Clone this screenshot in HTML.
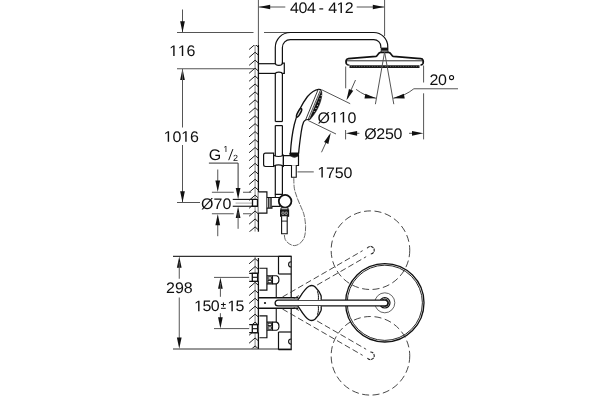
<!DOCTYPE html>
<html><head><meta charset="utf-8"><style>
html,body{margin:0;padding:0;background:#fff;width:600px;height:400px;overflow:hidden;}
svg{display:block;will-change:transform;}
text{font-family:"Liberation Sans",sans-serif;fill:#111;text-rendering:geometricPrecision;}
</style></head><body>
<svg width="600" height="400" viewBox="0 0 600 400">
<rect width="600" height="400" fill="#fff"/>
<clipPath id="hc1"><rect x="240" y="45" width="30" height="186.7"/></clipPath>
<g clip-path="url(#hc1)">
<line x1="255.10" y1="45.00" x2="255.10" y2="231.70" stroke="#aaa" stroke-width="1.4" />
<path d="M249.1,49.50 L255.1,44.30 L258.4,47.20" stroke="#111" stroke-width="0.95" fill="none" />
<path d="M249.1,57.44 L255.1,52.24 L258.4,55.14" stroke="#111" stroke-width="0.95" fill="none" />
<path d="M249.1,65.38 L255.1,60.18 L258.4,63.08" stroke="#111" stroke-width="0.95" fill="none" />
<path d="M249.1,73.32 L255.1,68.12 L258.4,71.02" stroke="#111" stroke-width="0.95" fill="none" />
<path d="M249.1,81.26 L255.1,76.06 L258.4,78.96" stroke="#111" stroke-width="0.95" fill="none" />
<path d="M249.1,89.20 L255.1,84.00 L258.4,86.90" stroke="#111" stroke-width="0.95" fill="none" />
<path d="M249.1,97.14 L255.1,91.94 L258.4,94.84" stroke="#111" stroke-width="0.95" fill="none" />
<path d="M249.1,105.08 L255.1,99.88 L258.4,102.78" stroke="#111" stroke-width="0.95" fill="none" />
<path d="M249.1,113.02 L255.1,107.82 L258.4,110.72" stroke="#111" stroke-width="0.95" fill="none" />
<path d="M249.1,120.96 L255.1,115.76 L258.4,118.66" stroke="#111" stroke-width="0.95" fill="none" />
<path d="M249.1,128.90 L255.1,123.70 L258.4,126.60" stroke="#111" stroke-width="0.95" fill="none" />
<path d="M249.1,136.84 L255.1,131.64 L258.4,134.54" stroke="#111" stroke-width="0.95" fill="none" />
<path d="M249.1,144.78 L255.1,139.58 L258.4,142.48" stroke="#111" stroke-width="0.95" fill="none" />
<path d="M249.1,152.72 L255.1,147.52 L258.4,150.42" stroke="#111" stroke-width="0.95" fill="none" />
<path d="M249.1,160.66 L255.1,155.46 L258.4,158.36" stroke="#111" stroke-width="0.95" fill="none" />
<path d="M249.1,168.60 L255.1,163.40 L258.4,166.30" stroke="#111" stroke-width="0.95" fill="none" />
<path d="M249.1,176.54 L255.1,171.34 L258.4,174.24" stroke="#111" stroke-width="0.95" fill="none" />
<path d="M249.1,184.48 L255.1,179.28 L258.4,182.18" stroke="#111" stroke-width="0.95" fill="none" />
<path d="M249.1,192.42 L255.1,187.22 L258.4,190.12" stroke="#111" stroke-width="0.95" fill="none" />
<path d="M249.1,200.36 L255.1,195.16 L258.4,198.06" stroke="#111" stroke-width="0.95" fill="none" />
<path d="M249.1,208.30 L255.1,203.10 L258.4,206.00" stroke="#111" stroke-width="0.95" fill="none" />
<path d="M249.1,216.24 L255.1,211.04 L258.4,213.94" stroke="#111" stroke-width="0.95" fill="none" />
<path d="M249.1,224.18 L255.1,218.98 L258.4,221.88" stroke="#111" stroke-width="0.95" fill="none" />
<path d="M249.1,232.12 L255.1,226.92 L258.4,229.82" stroke="#111" stroke-width="0.95" fill="none" />
</g>
<line x1="258.40" y1="0.00" x2="258.40" y2="45.00" stroke="#555" stroke-width="1" />
<line x1="258.40" y1="45.00" x2="258.40" y2="231.70" stroke="#111" stroke-width="1.3" />
<line x1="258.40" y1="7.00" x2="285.30" y2="7.00" stroke="#555" stroke-width="1" />
<path d="M258.90,7.00 L270.20,4.65 L270.20,9.35 Z" fill="#111" stroke="none"/>
<text x="289.90 298.49 307.07" y="0" font-size="16" transform="translate(0,12.72) scale(1,0.955)">404</text>
<text x="328.30 344.70" y="0" font-size="16" transform="translate(0,12.9) scale(1,0.955)">42</text>
<path d="M515,0 L515,1237 L197,1010 L197,1180 L530,1409 L696,1409 L696,0 Z" fill="#111" transform="translate(336.50,12.9) scale(0.007812,-0.007461)"/>
<line x1="319.30" y1="8.90" x2="323.20" y2="8.90" stroke="#111" stroke-width="1.2" />
<line x1="356.70" y1="7.00" x2="384.60" y2="7.00" stroke="#555" stroke-width="1" />
<path d="M384.10,7.00 L372.80,9.35 L372.80,4.65 Z" fill="#111" stroke="none"/>
<line x1="384.60" y1="0.00" x2="384.60" y2="36.00" stroke="#555" stroke-width="1" />
<line x1="177.00" y1="32.50" x2="253.50" y2="32.50" stroke="#555" stroke-width="1" />
<line x1="264.00" y1="32.50" x2="290.00" y2="32.50" stroke="#555" stroke-width="1" />
<line x1="177.00" y1="68.75" x2="254.40" y2="68.75" stroke="#555" stroke-width="1" />
<line x1="182.50" y1="9.50" x2="182.50" y2="32.00" stroke="#555" stroke-width="1" />
<path d="M182.50,32.50 L180.15,21.20 L184.85,21.20 Z" fill="#111" stroke="none"/>
<path d="M182.50,68.75 L184.85,80.05 L180.15,80.05 Z" fill="#111" stroke="none"/>
<line x1="182.50" y1="69.00" x2="182.50" y2="127.50" stroke="#555" stroke-width="1" />
<line x1="182.50" y1="145.00" x2="182.50" y2="202.00" stroke="#555" stroke-width="1" />
<path d="M182.50,202.50 L180.15,191.20 L184.85,191.20 Z" fill="#111" stroke="none"/>
<line x1="177.00" y1="202.50" x2="200.00" y2="202.50" stroke="#555" stroke-width="1" />
<text x="186.39" y="0" font-size="16" transform="translate(0,56.01) scale(1,0.955)">6</text>
<path d="M515,0 L515,1237 L197,1010 L197,1180 L530,1409 L696,1409 L696,0 Z" fill="#111" transform="translate(169.18,56.01) scale(0.007812,-0.007461)"/>
<path d="M515,0 L515,1237 L197,1010 L197,1180 L530,1409 L696,1409 L696,0 Z" fill="#111" transform="translate(177.79,56.01) scale(0.007812,-0.007461)"/>
<text x="172.45 189.99" y="0" font-size="16" transform="translate(0,141.71) scale(1,0.955)">06</text>
<path d="M515,0 L515,1237 L197,1010 L197,1180 L530,1409 L696,1409 L696,0 Z" fill="#111" transform="translate(163.68,141.71) scale(0.007812,-0.007461)"/>
<path d="M515,0 L515,1237 L197,1010 L197,1180 L530,1409 L696,1409 L696,0 Z" fill="#111" transform="translate(181.22,141.71) scale(0.007812,-0.007461)"/>
<path d="M275.3,64 L275.3,47.5 A15,15 0 0 1 290.3,32.5 L373.75,32.5 A14,14 0 0 1 387.75,46.5 L387.75,48" stroke="#111" stroke-width="1.2" fill="none" />
<path d="M282.4,64 L282.4,47.5 A7.9,7.9 0 0 1 290.3,39.6 L373.75,39.6 A7.1,7.1 0 0 1 380.85,46.7 L380.85,48" stroke="#111" stroke-width="1.2" fill="none" />
<line x1="258.40" y1="63.70" x2="275.30" y2="63.70" stroke="#111" stroke-width="1.2" />
<line x1="258.40" y1="73.40" x2="275.30" y2="73.40" stroke="#111" stroke-width="1.2" />
<path d="M275.3,63.2 C275.6,66 282.1,66 282.4,63.2 L284.3,63.2 L284.3,73.4 L282.4,73.4" stroke="#111" stroke-width="1.2" fill="none" />
<path d="M275.3,74 C275.6,71.4 282.1,71.4 282.4,74" stroke="#111" stroke-width="1.2" fill="none" />
<line x1="275.30" y1="73.40" x2="275.30" y2="121.50" stroke="#111" stroke-width="1.2" />
<line x1="282.40" y1="73.40" x2="282.40" y2="121.50" stroke="#111" stroke-width="1.2" />
<line x1="275.30" y1="121.50" x2="282.40" y2="121.50" stroke="#111" stroke-width="1.2" />
<line x1="275.30" y1="125.60" x2="282.40" y2="125.60" stroke="#111" stroke-width="1.2" />
<line x1="275.30" y1="125.60" x2="275.30" y2="194.40" stroke="#111" stroke-width="1.2" />
<line x1="282.40" y1="125.60" x2="282.40" y2="194.40" stroke="#111" stroke-width="1.2" />
<path d="M265.5,153.2 L273.6,153.2 L273.6,166.5 L265.5,166.5 Q263.6,166.5 263.6,164.6 L263.6,155.1 Q263.6,153.2 265.5,153.2 Z" stroke="#111" stroke-width="1.2" fill="#fff" />
<path d="M273.6,155.2 Q278.5,157.8 283.4,155.2 L283.4,166.2 Q278.5,163.4 273.6,166.2 Z" stroke="#111" stroke-width="1.2" fill="#fff" />
<path d="M283.4,155.7 L298.5,155.7 L298.5,165.5 L283.4,165.5 Z" stroke="#111" stroke-width="1.2" fill="#fff" />
<path d="M291.5,165.25 L291.5,177.25 L296.25,177.25 L296.25,165.25" stroke="#111" stroke-width="1.1" fill="#fff" />
<line x1="297.50" y1="171.90" x2="313.75" y2="171.90" stroke="#555" stroke-width="1" />
<text x="326.05 334.72 343.39" y="0" font-size="16" transform="translate(0,177.52) scale(1,0.955)">750</text>
<path d="M515,0 L515,1237 L197,1010 L197,1180 L530,1409 L696,1409 L696,0 Z" fill="#111" transform="translate(317.38,177.52) scale(0.007812,-0.007461)"/>
<path d="M318.4,89.3 C314,89.8 310.5,93 307.5,96.5 C304.5,100.5 301.5,105.5 299.3,110 C297.3,114.5 295.6,119 294.3,124.5 C292.3,133 291,143 290.4,153.5" stroke="#111" stroke-width="1.3" fill="none" />
<path d="M306,119.8 C304.8,120.5 304,121.2 303.6,122 C302.5,124.5 301.7,128 301.2,132 C300.2,139 299.2,146 298.6,153.5" stroke="#111" stroke-width="1.3" fill="none" />
<path d="M318.2,89.4 C319.6,89.2 320.8,89.5 321.4,90.4" stroke="#111" stroke-width="1.2" fill="none" />
<line x1="318.10" y1="89.60" x2="305.70" y2="119.70" stroke="#111" stroke-width="0.85" />
<line x1="320.30" y1="90.40" x2="308.10" y2="119.60" stroke="#111" stroke-width="0.75" />
<path d="M321.3,90.5 C323.3,94.5 320.5,108 310.2,119.4 L309.4,119.5 L320.9,91.9 Z" stroke="#111" stroke-width="0.5" fill="#111" />
<circle cx="321.20" cy="95.50" r="0.55" fill="#fff"/>
<circle cx="320.00" cy="98.80" r="0.55" fill="#fff"/>
<circle cx="318.80" cy="102.00" r="0.55" fill="#fff"/>
<circle cx="317.40" cy="105.20" r="0.55" fill="#fff"/>
<circle cx="315.90" cy="108.40" r="0.55" fill="#fff"/>
<circle cx="314.20" cy="111.50" r="0.55" fill="#fff"/>
<path d="M305.9,119.7 L309.8,119.4" stroke="#111" stroke-width="1.1" fill="none" />
<ellipse cx="299.1" cy="112.8" rx="1.3" ry="4.8" transform="rotate(28.6 299.1 112.8)" fill="#eee" stroke="#111" stroke-width="1.6"/>
<path d="M289.9,153.0 L298.6,153.0 L298.5,155.7 L290.0,155.7 Z" stroke="#111" stroke-width="1" fill="#111" />
<path d="M290.8,155.6 Q294.3,159 298,155.6 Z" stroke="#111" stroke-width="0.8" fill="#222" />
<line x1="321.70" y1="89.75" x2="350.20" y2="103.70" stroke="#555" stroke-width="1" />
<line x1="308.20" y1="120.50" x2="336.00" y2="134.00" stroke="#555" stroke-width="1" />
<line x1="355.50" y1="80.00" x2="347.30" y2="98.50" stroke="#555" stroke-width="1" />
<path d="M346.50,100.20 L348.96,88.92 L353.25,90.84 Z" fill="#111" stroke="none"/>
<line x1="321.50" y1="152.25" x2="329.50" y2="135.00" stroke="#555" stroke-width="1" />
<path d="M330.80,132.75 L328.34,144.03 L324.05,142.11 Z" fill="#111" stroke="none"/>
<text x="317.49 347.60" y="0" font-size="16" transform="translate(0,122.5) scale(1,0.955)">Ø0</text>
<path d="M515,0 L515,1237 L197,1010 L197,1180 L530,1409 L696,1409 L696,0 Z" fill="#111" transform="translate(329.89,122.5) scale(0.007812,-0.007461)"/>
<path d="M515,0 L515,1237 L197,1010 L197,1180 L530,1409 L696,1409 L696,0 Z" fill="#111" transform="translate(338.75,122.5) scale(0.007812,-0.007461)"/>
<line x1="232.75" y1="199.40" x2="252.50" y2="199.40" stroke="#111" stroke-width="1.1" />
<line x1="232.75" y1="206.25" x2="252.50" y2="206.25" stroke="#111" stroke-width="1.1" />
<line x1="235.60" y1="203.10" x2="252.50" y2="203.10" stroke="#aaa" stroke-width="1" />
<path d="M252.5,199.4 L257.5,199.4 L257.5,206.25 L252.5,206.25 Z" stroke="#111" stroke-width="1.3" fill="#fff" />
<path d="M258.4,191.9 L266.9,191.9 L266.9,213.1 L258.4,213.1" stroke="#111" stroke-width="1.2" fill="#fff" />
<path d="M266.9,197.5 L271.9,197.5 L271.9,208.1 L266.9,208.1" stroke="#111" stroke-width="1.2" fill="#ccc" />
<line x1="268.40" y1="197.80" x2="268.40" y2="207.80" stroke="#111" stroke-width="0.9" />
<line x1="270.20" y1="197.80" x2="270.20" y2="207.80" stroke="#111" stroke-width="0.9" />
<path d="M275.3,194.4 L282.3,194.4 L282.3,197.5 L275.3,197.5 Z" stroke="#111" stroke-width="1.1" fill="#fff" />
<path d="M271.9,197.5 L280,197.5 L280,206.3 L271.9,206.3" stroke="#111" stroke-width="1.2" fill="#fff" />
<circle cx="285.1" cy="201.25" r="6.3" fill="#fff" stroke="#111" stroke-width="1.8"/>
<path d="M281,207.8 L288,207.8 L288,210 L281,210 Z" stroke="#111" stroke-width="1" fill="#fff" />
<path d="M280.6,210 L288.6,210 L288.6,216.3 L280.6,216.3 Z" stroke="#111" stroke-width="1.1" fill="#222" />
<ellipse cx="283" cy="213.2" rx="1.2" ry="1.3" fill="none" stroke="#ccc" stroke-width="0.7"/>
<ellipse cx="286.2" cy="213.2" rx="1.2" ry="1.3" fill="none" stroke="#ccc" stroke-width="0.7"/>
<path d="M281.6,216.3 L281.6,233.7 L287.2,233.7 L287.2,216.3" stroke="#111" stroke-width="1.1" fill="#fff" />
<path d="M293.75,177.50 C293.86,179.38 293.77,185.21 294.40,188.75 C295.02,192.29 296.36,195.62 297.50,198.75 C298.64,201.88 300.21,205.00 301.25,207.50 C302.29,210.00 303.14,211.77 303.75,213.75 C304.36,215.73 304.59,217.29 304.90,219.40 C305.21,221.51 305.53,224.22 305.60,226.40 C305.67,228.58 305.60,230.47 305.30,232.50 C305.00,234.53 304.70,236.78 303.80,238.60 C302.90,240.42 301.43,242.23 299.90,243.40 C298.37,244.57 296.35,245.52 294.60,245.60 C292.85,245.68 290.97,244.92 289.40,243.90 C287.83,242.88 286.05,241.22 285.20,239.50 C284.35,237.78 284.45,234.58 284.30,233.60" stroke="#444" stroke-width="0.8" fill="none" stroke-dasharray="6,1.1"/>
<line x1="281.60" y1="221.10" x2="287.20" y2="221.10" stroke="#111" stroke-width="0.9" />
<line x1="211.90" y1="192.25" x2="233.75" y2="192.25" stroke="#555" stroke-width="1" />
<line x1="243.00" y1="192.25" x2="251.25" y2="192.25" stroke="#555" stroke-width="1" />
<line x1="211.90" y1="213.75" x2="233.75" y2="213.75" stroke="#555" stroke-width="1" />
<line x1="243.00" y1="213.75" x2="251.25" y2="213.75" stroke="#555" stroke-width="1" />
<line x1="217.75" y1="169.50" x2="217.75" y2="186.00" stroke="#555" stroke-width="1" />
<path d="M217.75,191.90 L215.40,180.60 L220.10,180.60 Z" fill="#111" stroke="none"/>
<line x1="217.75" y1="219.00" x2="217.75" y2="236.20" stroke="#555" stroke-width="1" />
<path d="M217.75,213.90 L220.10,225.20 L215.40,225.20 Z" fill="#111" stroke="none"/>
<text x="201.09 213.62 222.60" y="0" font-size="16" transform="translate(0,208.6) scale(1,0.955)">Ø70</text>
<line x1="208.90" y1="163.10" x2="238.10" y2="163.10" stroke="#333" stroke-width="1" />
<line x1="238.10" y1="163.10" x2="238.10" y2="193.00" stroke="#333" stroke-width="1" />
<path d="M238.10,199.20 L235.75,187.90 L240.45,187.90 Z" fill="#111" stroke="none"/>
<path d="M238.10,206.60 L240.45,217.90 L235.75,217.90 Z" fill="#111" stroke="none"/>
<line x1="238.10" y1="212.00" x2="238.10" y2="228.80" stroke="#555" stroke-width="1" />
<text x="208.84" y="0" font-size="16" transform="translate(0,160.3) scale(1,0.955)">G</text>
<path d="M515,0 L515,1237 L197,1010 L197,1180 L530,1409 L696,1409 L696,0 Z" fill="#111" transform="translate(223.3,152.1) scale(0.004395,-0.004395)"/>
<line x1="228.70" y1="160.20" x2="232.90" y2="149.10" stroke="#111" stroke-width="1" />
<text x="233.1" y="160.5" font-size="9" text-anchor="start" >2</text>
<path d="M381.2,48 L388,48 L388,50.3 L381.2,50.3 Z" stroke="#111" stroke-width="0.8" fill="#111" />
<path d="M381.2,50.3 L388,50.3 L388,52.4 L381.2,52.4 Z" stroke="#111" stroke-width="0.8" fill="#ddd" />
<path d="M346.4,64 C345.6,61 346,58.9 348.5,58.7 C358,57.9 368,57.1 376,56.4 C377.8,55.9 378,52.7 380.5,52.4 L388.7,52.4 C391.2,52.7 391.4,55.9 393.2,56.4 C401,57.1 411,57.9 420.7,58.7 C423.2,58.9 423.6,61 423,63.5 C422.5,64.6 421.6,65 420.5,65.1" stroke="#111" stroke-width="1.8" fill="#fff" />
<path d="M346.4,64 C347,64.8 348,65.1 349.5,65.1" stroke="#111" stroke-width="1.3" fill="none" />
<line x1="346.80" y1="60.80" x2="422.80" y2="60.80" stroke="#111" stroke-width="0.9" />
<line x1="349.50" y1="66.60" x2="419.50" y2="66.60" stroke="#1a1a1a" stroke-width="2.6" />
<circle cx="351.50" cy="66.3" r="0.45" fill="#999"/>
<circle cx="354.10" cy="66.3" r="0.45" fill="#999"/>
<circle cx="356.70" cy="66.3" r="0.45" fill="#999"/>
<circle cx="359.30" cy="66.3" r="0.45" fill="#999"/>
<circle cx="361.90" cy="66.3" r="0.45" fill="#999"/>
<circle cx="364.50" cy="66.3" r="0.45" fill="#999"/>
<circle cx="367.10" cy="66.3" r="0.45" fill="#999"/>
<circle cx="369.70" cy="66.3" r="0.45" fill="#999"/>
<circle cx="372.30" cy="66.3" r="0.45" fill="#999"/>
<circle cx="374.90" cy="66.3" r="0.45" fill="#999"/>
<circle cx="377.50" cy="66.3" r="0.45" fill="#999"/>
<circle cx="380.10" cy="66.3" r="0.45" fill="#999"/>
<circle cx="382.70" cy="66.3" r="0.45" fill="#999"/>
<circle cx="385.30" cy="66.3" r="0.45" fill="#999"/>
<circle cx="387.90" cy="66.3" r="0.45" fill="#999"/>
<circle cx="390.50" cy="66.3" r="0.45" fill="#999"/>
<circle cx="393.10" cy="66.3" r="0.45" fill="#999"/>
<circle cx="395.70" cy="66.3" r="0.45" fill="#999"/>
<circle cx="398.30" cy="66.3" r="0.45" fill="#999"/>
<circle cx="400.90" cy="66.3" r="0.45" fill="#999"/>
<circle cx="403.50" cy="66.3" r="0.45" fill="#999"/>
<circle cx="406.10" cy="66.3" r="0.45" fill="#999"/>
<circle cx="408.70" cy="66.3" r="0.45" fill="#999"/>
<circle cx="411.30" cy="66.3" r="0.45" fill="#999"/>
<circle cx="413.90" cy="66.3" r="0.45" fill="#999"/>
<circle cx="416.50" cy="66.3" r="0.45" fill="#999"/>
<circle cx="419.10" cy="66.3" r="0.45" fill="#999"/>
<line x1="384.51" y1="52.50" x2="375.40" y2="104.20" stroke="#555" stroke-width="1" />
<line x1="384.69" y1="52.50" x2="393.80" y2="104.20" stroke="#555" stroke-width="1" />
<path d="M356.05,89.34 A47,47 0 0 0 375.95,98.20" stroke="#555" stroke-width="1" fill="none" />
<path d="M376.03,98.21 L364.50,98.46 L365.35,93.84 Z" fill="#111" stroke="none"/>
<path d="M393.25,98.20 A47,47 0 0 0 413.86,88.78" stroke="#555" stroke-width="1" fill="none" />
<path d="M393.17,98.21 L403.85,93.84 L404.70,98.46 Z" fill="#111" stroke="none"/>
<line x1="413.86" y1="88.78" x2="458.00" y2="88.78" stroke="#555" stroke-width="1" />
<text x="429.49 437.88" y="0" font-size="16" transform="translate(0,85.42) scale(1,0.955)">20</text>
<circle cx="451.55" cy="77.55" r="2.05" fill="none" stroke="#111" stroke-width="1.1"/>
<line x1="345.70" y1="66.50" x2="345.70" y2="88.30" stroke="#555" stroke-width="1" />
<line x1="423.60" y1="65.50" x2="423.60" y2="82.50" stroke="#555" stroke-width="1" />
<line x1="423.60" y1="93.30" x2="423.60" y2="139.40" stroke="#555" stroke-width="1" />
<line x1="345.60" y1="130.00" x2="345.60" y2="139.40" stroke="#555" stroke-width="1" />
<line x1="350.00" y1="133.30" x2="359.40" y2="133.30" stroke="#555" stroke-width="1" />
<path d="M345.80,133.30 L357.10,130.95 L357.10,135.65 Z" fill="#111" stroke="none"/>
<line x1="409.00" y1="133.30" x2="418.00" y2="133.30" stroke="#555" stroke-width="1" />
<path d="M423.30,133.30 L412.00,135.65 L412.00,130.95 Z" fill="#111" stroke="none"/>
<text x="364.19 376.36 384.98 393.60" y="0" font-size="16" transform="translate(0,139.0) scale(1,0.955)">Ø250</text>
<clipPath id="hc2"><rect x="240" y="256.9" width="30" height="91.70000000000005"/></clipPath>
<g clip-path="url(#hc2)">
<line x1="255.10" y1="256.90" x2="255.10" y2="348.60" stroke="#aaa" stroke-width="1.4" />
<path d="M249.1,263.80 L255.1,258.60 L258.4,261.50" stroke="#111" stroke-width="0.95" fill="none" />
<path d="M249.1,271.74 L255.1,266.54 L258.4,269.44" stroke="#111" stroke-width="0.95" fill="none" />
<path d="M249.1,279.68 L255.1,274.48 L258.4,277.38" stroke="#111" stroke-width="0.95" fill="none" />
<path d="M249.1,287.62 L255.1,282.42 L258.4,285.32" stroke="#111" stroke-width="0.95" fill="none" />
<path d="M249.1,295.56 L255.1,290.36 L258.4,293.26" stroke="#111" stroke-width="0.95" fill="none" />
<path d="M249.1,303.50 L255.1,298.30 L258.4,301.20" stroke="#111" stroke-width="0.95" fill="none" />
<path d="M249.1,311.44 L255.1,306.24 L258.4,309.14" stroke="#111" stroke-width="0.95" fill="none" />
<path d="M249.1,319.38 L255.1,314.18 L258.4,317.08" stroke="#111" stroke-width="0.95" fill="none" />
<path d="M249.1,327.32 L255.1,322.12 L258.4,325.02" stroke="#111" stroke-width="0.95" fill="none" />
<path d="M249.1,335.26 L255.1,330.06 L258.4,332.96" stroke="#111" stroke-width="0.95" fill="none" />
<path d="M249.1,343.20 L255.1,338.00 L258.4,340.90" stroke="#111" stroke-width="0.95" fill="none" />
<path d="M249.1,351.14 L255.1,345.94 L258.4,348.84" stroke="#111" stroke-width="0.95" fill="none" />
</g>
<line x1="258.40" y1="258.00" x2="258.40" y2="349.00" stroke="#111" stroke-width="1.3" />
<line x1="173.00" y1="256.40" x2="291.20" y2="256.40" stroke="#333" stroke-width="1.1" />
<line x1="173.00" y1="349.00" x2="291.20" y2="349.00" stroke="#333" stroke-width="1.1" />
<path d="M179.25,256.50 L181.60,267.80 L176.90,267.80 Z" fill="#111" stroke="none"/>
<line x1="179.25" y1="262.00" x2="179.25" y2="278.75" stroke="#555" stroke-width="1" />
<line x1="179.25" y1="297.50" x2="179.25" y2="343.00" stroke="#555" stroke-width="1" />
<path d="M179.25,348.80 L176.90,337.50 L181.60,337.50 Z" fill="#111" stroke="none"/>
<text x="165.99 174.92 183.85" y="0" font-size="16" transform="translate(0,292.66) scale(1,0.955)">298</text>
<line x1="214.00" y1="277.40" x2="253.00" y2="277.40" stroke="#555" stroke-width="1" />
<line x1="214.00" y1="328.60" x2="253.00" y2="328.60" stroke="#555" stroke-width="1" />
<path d="M220.40,277.40 L222.75,288.70 L218.05,288.70 Z" fill="#111" stroke="none"/>
<line x1="220.40" y1="283.00" x2="220.40" y2="296.80" stroke="#555" stroke-width="1" />
<line x1="220.40" y1="313.20" x2="220.40" y2="323.00" stroke="#555" stroke-width="1" />
<path d="M220.40,328.60 L218.05,317.30 L222.75,317.30 Z" fill="#111" stroke="none"/>
<text x="202.44 210.79" y="0" font-size="16" transform="translate(0,311.2) scale(1,0.955)">50</text>
<path d="M515,0 L515,1237 L197,1010 L197,1180 L530,1409 L696,1409 L696,0 Z" fill="#111" transform="translate(194.08,311.2) scale(0.007812,-0.007461)"/>
<text x="235.53" y="0" font-size="16" transform="translate(0,311.2) scale(1,0.955)">5</text>
<path d="M515,0 L515,1237 L197,1010 L197,1180 L530,1409 L696,1409 L696,0 Z" fill="#111" transform="translate(227.38,311.2) scale(0.007812,-0.007461)"/>
<line x1="221.00" y1="304.50" x2="225.75" y2="304.50" stroke="#111" stroke-width="1" />
<line x1="223.40" y1="302.40" x2="223.40" y2="306.80" stroke="#111" stroke-width="1" />
<line x1="221.00" y1="308.30" x2="225.75" y2="308.30" stroke="#111" stroke-width="1" />
<path d="M278.5,256.4 L291.2,256.4 L291.2,297.7" stroke="#111" stroke-width="1.2" fill="none" />
<line x1="278.50" y1="256.40" x2="278.50" y2="274.00" stroke="#111" stroke-width="1.2" />
<line x1="278.50" y1="274.00" x2="291.20" y2="274.00" stroke="#111" stroke-width="1.2" />
<path d="M291.2,261.8 A2.6,2.6 0 0 0 291.2,267" fill="none" stroke="#111" stroke-width="1.1"/>
<path d="M259.4,268.25 L266.9,268.25 L266.9,290.1 L259.4,290.1" stroke="#111" stroke-width="1.2" fill="none" />
<path d="M266.9,275.75 L272.5,275.75 L272.5,283.9 L266.9,283.9" stroke="#111" stroke-width="1.1" fill="none" />
<rect x="268" y="276.80" width="3.4" height="2.4" fill="none" stroke="#111" stroke-width="0.9"/>
<rect x="268" y="280.40" width="3.4" height="2.4" fill="none" stroke="#111" stroke-width="0.9"/>
<path d="M272.5,275.75 L276.5,275.75 C279.8,276.5 279.8,283.1 276.5,283.9 L272.5,283.9" stroke="#111" stroke-width="1.1" fill="none" />
<line x1="276.25" y1="283.90" x2="276.25" y2="297.70" stroke="#111" stroke-width="1.1" />
<rect x="249.2" y="273.30" width="9.2" height="8" fill="#fff" stroke="none"/>
<path d="M249.2,273.3 L258.4,273.3 M249.2,281.3 L258.4,281.3" stroke="#111" stroke-width="1.3" fill="none" />
<rect x="252.3" y="273.30" width="5.3" height="8" fill="#fff" stroke="#111" stroke-width="1.3"/>
<line x1="252.30" y1="277.30" x2="257.60" y2="277.30" stroke="#111" stroke-width="1.1" />
<path d="M278.5,349.6 L291.2,349.6 L291.2,308.3" stroke="#111" stroke-width="1.2" fill="none" />
<line x1="278.50" y1="349.60" x2="278.50" y2="332.00" stroke="#111" stroke-width="1.2" />
<line x1="278.50" y1="332.00" x2="291.20" y2="332.00" stroke="#111" stroke-width="1.2" />
<path d="M291.2,344.2 A2.6,2.6 0 0 1 291.2,339" fill="none" stroke="#111" stroke-width="1.1"/>
<path d="M259.4,337.75 L266.9,337.75 L266.9,315.9 L259.4,315.9" stroke="#111" stroke-width="1.2" fill="none" />
<path d="M266.9,330.25 L272.5,330.25 L272.5,322.1 L266.9,322.1" stroke="#111" stroke-width="1.1" fill="none" />
<rect x="268" y="326.80" width="3.4" height="2.4" fill="none" stroke="#111" stroke-width="0.9"/>
<rect x="268" y="323.20" width="3.4" height="2.4" fill="none" stroke="#111" stroke-width="0.9"/>
<path d="M272.5,330.25 L276.5,330.25 C279.8,329.5 279.8,322.9 276.5,322.1 L272.5,322.1" stroke="#111" stroke-width="1.1" fill="none" />
<line x1="276.25" y1="322.10" x2="276.25" y2="308.30" stroke="#111" stroke-width="1.1" />
<rect x="249.2" y="324.70" width="9.2" height="8" fill="#fff" stroke="none"/>
<path d="M249.2,332.7 L258.4,332.7 M249.2,324.7 L258.4,324.7" stroke="#111" stroke-width="1.3" fill="none" />
<rect x="252.3" y="324.70" width="5.3" height="8" fill="#fff" stroke="#111" stroke-width="1.3"/>
<line x1="252.30" y1="328.70" x2="257.60" y2="328.70" stroke="#111" stroke-width="1.1" />
<line x1="258.40" y1="297.80" x2="298.30" y2="297.80" stroke="#111" stroke-width="1.6" />
<line x1="258.40" y1="308.20" x2="298.30" y2="308.20" stroke="#111" stroke-width="1.6" />
<circle cx="265" cy="303" r="1.1" fill="#111"/>
<line x1="282.45" y1="296.97" x2="362.64" y2="250.67" stroke="#333" stroke-width="0.9" stroke-dasharray="6,3"/>
<line x1="285.95" y1="303.03" x2="366.14" y2="256.73" stroke="#333" stroke-width="0.9" stroke-dasharray="6,3"/>
<path d="M367.16,248.30 A3.8,3.8 0 1 1 370.32,254.00" stroke="#222" stroke-width="1.1" fill="none" stroke-dasharray="3.2,0.8"/>
<circle cx="370.45" cy="250.20" r="39.3" fill="none" stroke="#333" stroke-width="0.9" stroke-dasharray="7,3.5"/>
<line x1="285.95" y1="302.97" x2="366.14" y2="349.27" stroke="#333" stroke-width="0.9" stroke-dasharray="6,3"/>
<line x1="282.45" y1="309.03" x2="362.64" y2="355.33" stroke="#333" stroke-width="0.9" stroke-dasharray="6,3"/>
<path d="M370.32,352.00 A3.8,3.8 0 1 1 367.16,357.70" stroke="#222" stroke-width="1.1" fill="none" stroke-dasharray="3.2,0.8"/>
<circle cx="370.45" cy="355.80" r="39.3" fill="none" stroke="#333" stroke-width="0.9" stroke-dasharray="7,3.5"/>
<circle cx="384.8" cy="302.8" r="39.2" fill="none" stroke="#111" stroke-width="1.3"/>
<circle cx="384.8" cy="302.8" r="37.6" fill="none" stroke="#111" stroke-width="0.9"/>
<circle cx="384.8" cy="302.8" r="10" fill="none" stroke="#555" stroke-width="0.9"/>
<circle cx="384.8" cy="302.8" r="5.2" fill="none" stroke="#111" stroke-width="1.2"/>
<circle cx="384.8" cy="302.8" r="3.8" fill="none" stroke="#111" stroke-width="0.9"/>
<path d="M278,300.1 L385,300.1 A2.9,2.9 0 0 1 385,305.9 L278,305.9 A2.9,2.9 0 0 1 278,300.1 Z" stroke="#111" stroke-width="1.3" fill="#fff" />
<path d="M297.8,299.9 C300.5,297 304,289 309,286.3 C311.5,285 313.5,285.4 315.2,287 C317.6,289.4 320,292.5 321,295.5 C321.4,297 321.3,298.5 321.1,299.9" stroke="#111" stroke-width="1.3" fill="#fff" />
<path d="M297.8,306.1 C300.5,309 304,317 309,319.7 C311.5,321 313.5,320.6 315.2,319 C317.6,316.6 320,313.5 321,310.5 C321.4,309 321.3,307.5 321.1,306.1" stroke="#111" stroke-width="1.3" fill="#fff" />
<path d="M317.4,291.3 C318.5,294 318.6,297 318.3,299.9 M317.4,314.7 C318.5,312 318.6,309 318.3,306.1" stroke="#111" stroke-width="1.0" fill="none" />
</svg></body></html>
